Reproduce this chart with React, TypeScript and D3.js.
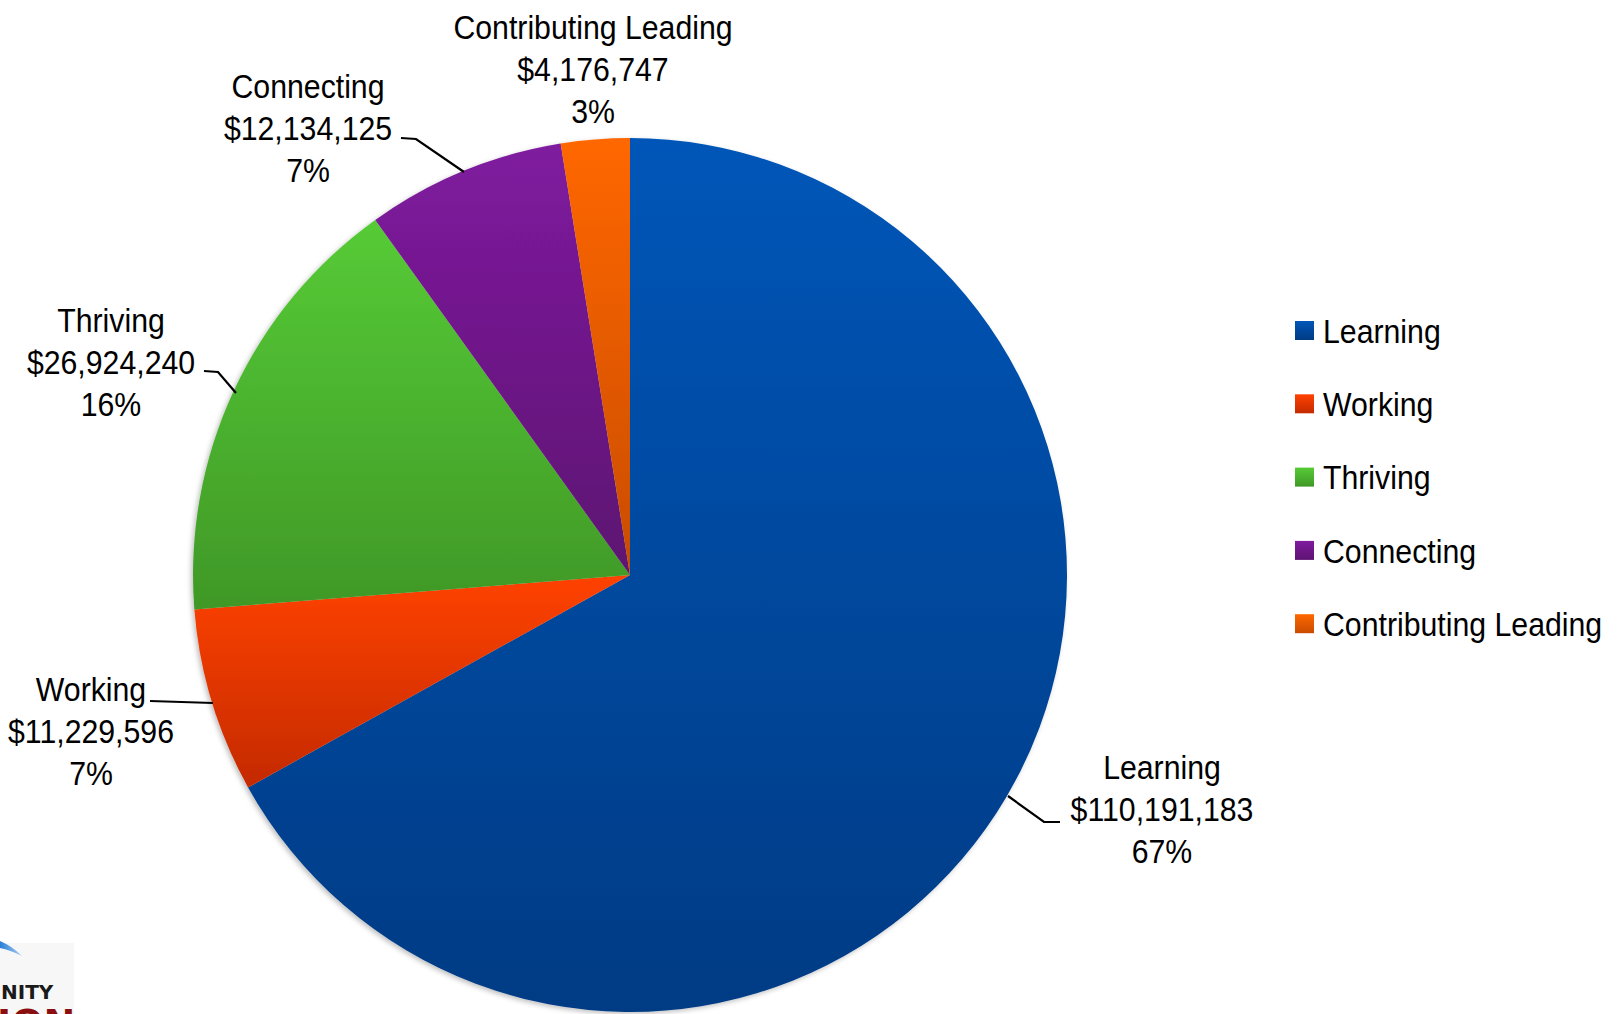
import React from "react";
import * as d3 from "d3";

const categories = ["Learning", "Working", "Thriving", "Connecting", "Contributing Leading"];
const values = [110191183, 11229596, 26924240, 12134125, 4176747];
const percentLabels = ["67%", "7%", "16%", "7%", "3%"];
const topColors = ["#0056b8", "#ff4200", "#56cb36", "#7f1b9f", "#ff6700"];
const bottomColors = ["#003b84", "#c42a00", "#409827", "#5d1371", "#c94c00"];

const W = 1617;
const H = 1014;
const CX = 630;
const CY = 575;
const R = 437;
const FONT = "'Liberation Sans', Arial, sans-serif";
const FS = 34;
const SX = 0.89;
const LH = 42;

// label layout: center x, first-line center y, leader polyline
const labelLayout = [
  { x: 1162, y: 767, line: [[1008, 796], [1044, 822], [1060, 822]] },
  { x: 91, y: 689, line: [[150, 701], [213, 703]] },
  { x: 111, y: 320, line: [[204, 371], [218, 372], [236, 393]] },
  { x: 308, y: 86, line: [[401, 138], [416, 139], [464, 172]] },
  { x: 593, y: 27, line: [] as number[][] },
];

const fmt = (v: number) => "$" + d3.format(",")(v);

function NText({ x, y, anchor, children }: { x: number; y: number; anchor?: string; children: React.ReactNode }) {
  return (
    <text
      transform={`translate(${x},${y}) scale(${SX},1)`}
      textAnchor={anchor || "start"}
      dominantBaseline="central"
      fontFamily={FONT}
      fontSize={FS}
      fill="#000"
    >
      {children}
    </text>
  );
}

export default function App() {
  const pie = d3.pie<number>().sort(null).value((d) => d).startAngle(0).endAngle(2 * Math.PI);
  const arcs = pie(values);
  const arcGen = d3.arc<d3.PieArcDatum<number>>().innerRadius(0).outerRadius(R);
  const lineGen = d3.line();

  return (
    <svg width={W} height={H} style={{ position: "absolute", left: 0, top: 0, background: "#fff" }}>
      <defs>
        {categories.map((c, i) => (
          <linearGradient key={c} id={`g${i}`} x1="0" y1="0" x2="0" y2="1">
            <stop offset="0" stopColor={topColors[i]} />
            <stop offset="1" stopColor={bottomColors[i]} />
          </linearGradient>
        ))}
        <linearGradient id="sw" x1="0" y1="0" x2="1" y2="0">
          <stop offset="0" stopColor="#2a7fd8" />
          <stop offset="1" stopColor="#a8cdf2" />
        </linearGradient>
        <filter id="sh" x="-10%" y="-10%" width="120%" height="120%">
          <feDropShadow dx="-2" dy="2" stdDeviation="2.5" floodColor="#000" floodOpacity="0.25" />
        </filter>
      </defs>
      <rect width={W} height={H} fill="#fff" />

      {/* logo fragment bottom-left */}
      <g>
        <rect x={0} y={943} width={74} height={71} fill="#f7f7f7" />
        <path d="M0,941 Q12,946 22,956 Q10,950 0,948 Z" fill="url(#sw)" />
        <text x={1} y={999} fontFamily="'DejaVu Sans', sans-serif" fontWeight="bold" fontSize={20} fill="#1a1a1a">
          NITY
        </text>
        <text x={-3} y={1036} fontFamily="'DejaVu Sans', sans-serif" fontWeight="bold" fontSize={38} fill="#8a1010">
          ION
        </text>
      </g>

      <g transform={`translate(${CX},${CY})`} filter="url(#sh)">
        {arcs.map((a, i) => (
          <path key={categories[i]} d={arcGen(a) || ""} fill={`url(#g${i})`} />
        ))}
      </g>

      {labelLayout.map((l, i) => (
        <g key={categories[i]}>
          {l.line.length > 0 && (
            <path d={lineGen(l.line as [number, number][]) || ""} stroke="#000" strokeWidth={2.2} fill="none" />
          )}
          {[categories[i], fmt(values[i]), percentLabels[i]].map((t, k) => (
            <NText key={k} x={l.x} y={l.y + k * LH} anchor="middle">
              {t}
            </NText>
          ))}
        </g>
      ))}

      {/* legend */}
      {categories.map((c, i) => {
        const y = 331 + i * 73.3;
        return (
          <g key={c}>
            <rect x={1295} y={y - 10} width={19} height={19} fill={`url(#g${i})`} />
            <NText x={1323} y={y}>
              {c}
            </NText>
          </g>
        );
      })}
    </svg>
  );
}
